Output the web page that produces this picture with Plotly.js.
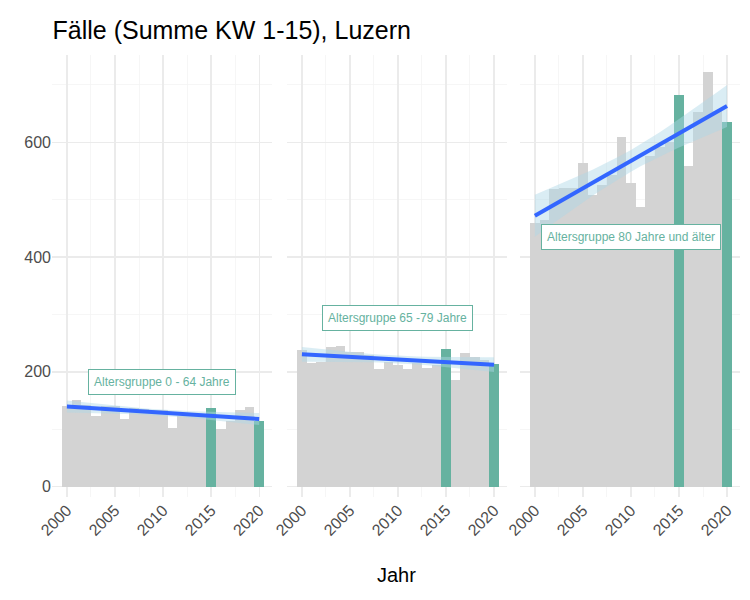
<!DOCTYPE html>
<html><head><meta charset="utf-8">
<script src="https://cdn.plot.ly/plotly-3.0.1.min.js"></script>
<style>body{margin:0}</style></head>
<body><div id="chart" style="width:750px;height:600px;"></div>
<script>
// Cases per year, calendar weeks 1-15, by age group
const years = [2000,2001,2002,2003,2004,2005,2006,2007,2008,2009,2010,2011,2012,2013,2014,2015,2016,2017,2018,2019,2020];
const age0_64  = [141,151,143,123,140,141,118,137,135,134,133,103,123,123,122,137,101,114,134,139,114];
const age65_79 = [238,216,218,244,245,235,235,229,205,218,212,205,215,207,212,240,185,233,226,221,214];
const age80    = [459,465,519,520,520,563,508,525,543,610,529,487,576,592,600,682,558,653,722,655,635];
const highlightYears = [2015, 2020];
const groupLabels = ["Altersgruppe 0 - 64 Jahre", "Altersgruppe 65 -79 Jahre", "Altersgruppe 80 Jahre und älter"];
const labelPos = [[2009.9, 183], [2009.9, 294], [2010, 435]];

const GREY = "#d3d3d3", GREEN = "#66b2a0", BLUE = "#3366ff";

// linear fit with 95% confidence band (like geom_smooth(method = "lm"))
function lmFit(x, y) {
  const n = x.length;
  const mx = x.reduce((a, b) => a + b) / n, my = y.reduce((a, b) => a + b) / n;
  let sxx = 0, sxy = 0;
  x.forEach((v, i) => { sxx += (v - mx) ** 2; sxy += (v - mx) * (y[i] - my); });
  const b = sxy / sxx, a = my - b * mx;
  let sse = 0;
  x.forEach((v, i) => { sse += (y[i] - a - b * v) ** 2; });
  const s = Math.sqrt(sse / (n - 2)), t = 2.093;
  const fit = x.map(v => a + b * v);
  const se = x.map(v => s * Math.sqrt(1 / n + (v - mx) ** 2 / sxx));
  return { fit, lo: fit.map((f, i) => f - t * se[i]), hi: fit.map((f, i) => f + t * se[i]) };
}

const groups = [age0_64, age65_79, age80];
const traces = [];
const annotations = [];
groups.forEach((vals, i) => {
  const xa = i === 0 ? "x" : "x" + (i + 1), ya = i === 0 ? "y" : "y" + (i + 1);
  traces.push({
    type: "bar", x: years, y: vals, width: 1, xaxis: xa, yaxis: ya,
    marker: { color: years.map(y => highlightYears.includes(y) ? GREEN : GREY) },
    showlegend: false, hoverinfo: "x+y",
  });
  const f = lmFit(years, vals);
  traces.push({
    type: "scatter", mode: "lines", x: years.concat(years.slice().reverse()),
    y: f.hi.concat(f.lo.slice().reverse()), fill: "toself",
    fillcolor: "rgba(173,216,230,0.45)", line: { width: 0 }, xaxis: xa, yaxis: ya,
    showlegend: false, hoverinfo: "skip",
  });
  traces.push({
    type: "scatter", mode: "lines", x: years, y: f.fit, xaxis: xa, yaxis: ya,
    line: { color: BLUE, width: 4 }, showlegend: false,
  });
  annotations.push({
    text: groupLabels[i], x: labelPos[i][0], y: labelPos[i][1], xref: xa, yref: ya,
    showarrow: false, font: { size: 12, color: GREEN, family: "Liberation Sans, Arial" },
    bgcolor: "white", bordercolor: GREEN, borderwidth: 1, borderpad: 5,
  });
});
annotations.push({
  text: "Jahr", xref: "paper", yref: "paper", x: 0.5, y: -0.176, yanchor: "middle",
  showarrow: false, font: { size: 20, color: "#000" },
});

const doms = [[0, 0.32], [0.3416, 0.6613], [0.6802, 1]];
const layout = {
  width: 750, height: 600,
  margin: { l: 52, r: 10, t: 55, b: 103 },
  paper_bgcolor: "white", plot_bgcolor: "white",
  font: { family: "Liberation Sans, Arial, sans-serif", color: "#4d4d4d" },
  title: { text: "Fälle (Summe KW 1-15), Luzern", x: 0.07, xanchor: "left", y: 0.965,
           font: { size: 25, color: "#000" } },
  bargap: 0, annotations,
};
doms.forEach((d, i) => {
  const s = i === 0 ? "" : (i + 1);
  layout["xaxis" + s] = {
    domain: d, range: [1998.45, 2021.35], tickvals: [2000, 2005, 2010, 2015, 2020],
    tickangle: -45, tickfont: { size: 16, color: "#4d4d4d" }, showgrid: true,
    gridcolor: "#ebebeb", gridwidth: 1.3, zeroline: false, ticks: "", anchor: "y" + s,
    minor: { dtick: 2.5, tick0: 2000, showgrid: true, gridcolor: "#f4f4f4", gridwidth: 0.8 },
  };
  layout["yaxis" + s] = {
    range: [-18, 752], tickvals: [0, 200, 400, 600], showticklabels: i === 0,
    tickfont: { size: 16, color: "#4d4d4d" }, showgrid: true, gridcolor: "#ebebeb",
    gridwidth: 1.3, zeroline: false, anchor: "x" + s, matches: i === 0 ? undefined : "y",
    minor: { dtick: 100, tick0: 0, showgrid: true, gridcolor: "#f4f4f4", gridwidth: 0.8 },
  };
});

Plotly.newPlot("chart", traces, layout, { displayModeBar: false, staticPlot: true });
</script></body></html>
